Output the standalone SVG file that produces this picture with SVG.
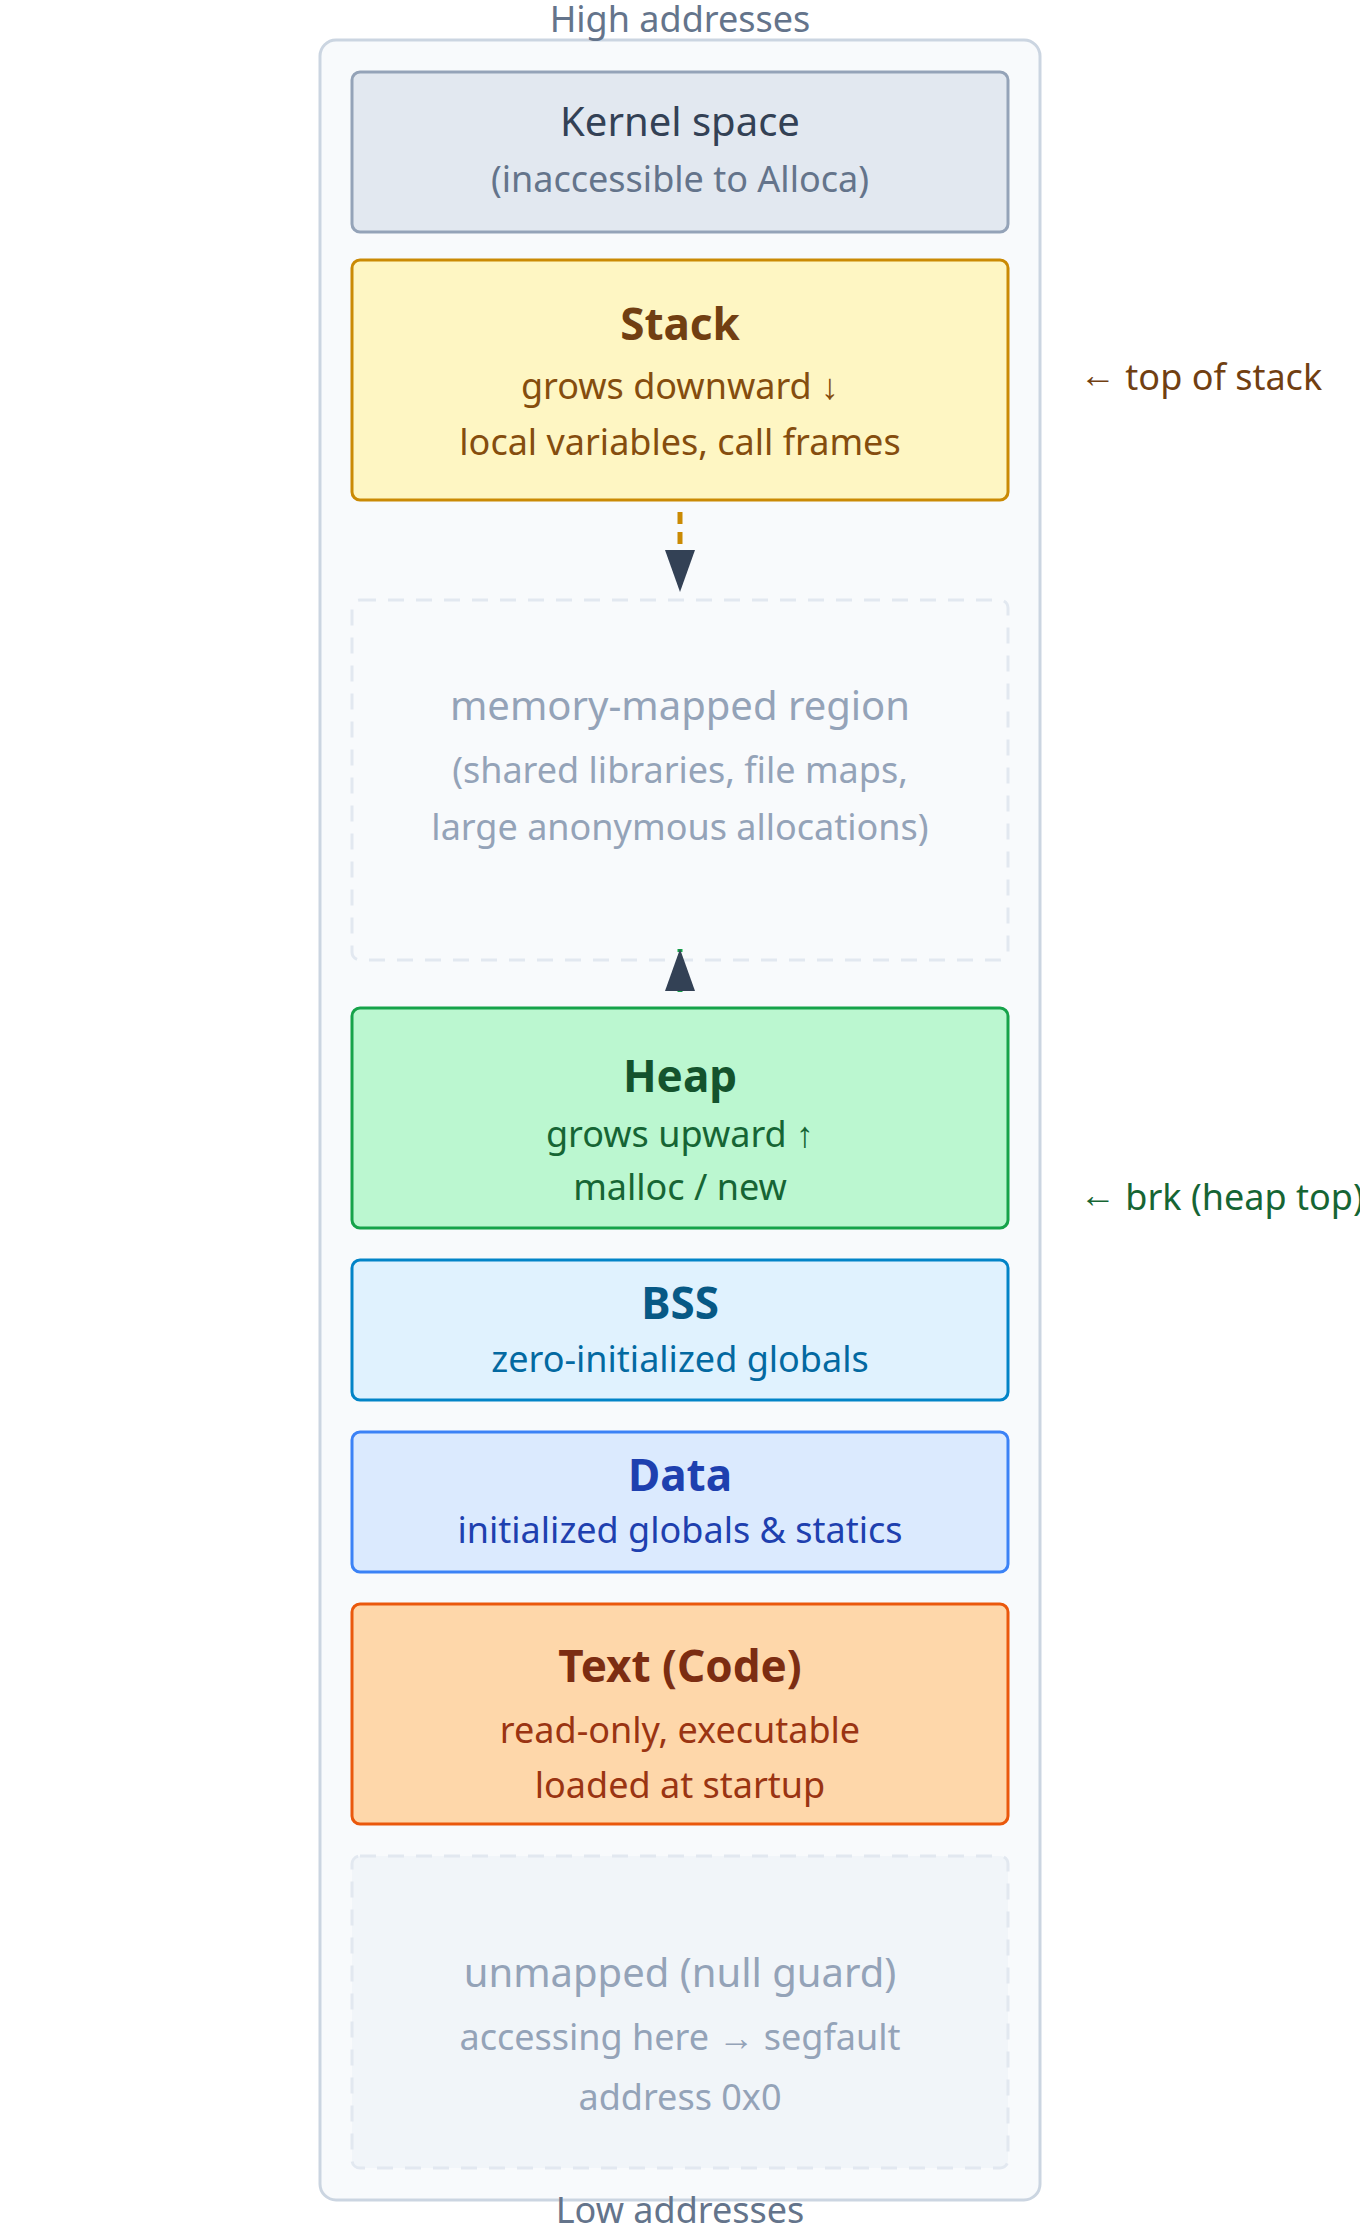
<svg xmlns="http://www.w3.org/2000/svg" width="1360" height="2240" viewBox="0 0 1360 2240">
<style>
text{font-family:"Noto Sans","Open Sans","DejaVu Sans",sans-serif;text-anchor:middle}
.hdr{font-size:36px;fill:#64748b}
.box{stroke-width:3}
.t{font-size:44px;font-weight:700}
.s{font-size:36px}
.big{font-size:40px}
.side{font-size:36px;text-anchor:start}
.ghost{fill:#94a3b8}
.ar{font-family:"Liberation Sans",Arial,sans-serif}
</style>
<defs>
<marker id="ah" markerUnits="userSpaceOnUse" markerWidth="42" markerHeight="30" refX="42" refY="15" orient="auto">
<path d="M0,0 L42,15 L0,30 Z" fill="#334155"/>
</marker>
</defs>
<rect width="1360" height="2240" fill="#ffffff"/>
<g id="container">
<rect x="320" y="40" width="720" height="2160" rx="16" fill="#f8fafc" stroke="#cbd5e1" stroke-width="3"/>
<text class="hdr" x="680" y="32">High addresses</text>
<text class="hdr" x="680" y="2223">Low addresses</text>
</g>
<g id="kernel">
<rect class="box" x="352" y="72" width="656" height="160" rx="8" fill="#e2e8f0" stroke="#94a3b8"/>
<text class="big" x="680" y="136" fill="#334155">Kernel space</text>
<text class="s" x="680" y="192" fill="#64748b">(inaccessible to Alloca)</text>
</g>
<g id="stack">
<rect class="box" x="352" y="260" width="656" height="240" rx="8" fill="#fef6c3" stroke="#ca8a04"/>
<text class="t" x="680" y="340" fill="#713f12">Stack</text>
<text class="s" x="680" y="399" fill="#854d0e">grows downward <tspan class="ar">↓</tspan></text>
<text class="s" x="680" y="455" fill="#854d0e">local variables, call frames</text>
</g>
<g id="top-of-stack">
<text class="side" x="1080" y="390" fill="#713f12"><tspan class="ar" dy="-3">←</tspan><tspan dy="3"> top of stack</tspan></text>
</g>
<g id="mmap">
<rect x="352" y="600" width="656" height="360" rx="8" fill="#f8fafc" stroke="#e2e8f0" stroke-width="3" stroke-dasharray="16 12"/>
<text class="big ghost" x="680" y="720">memory-mapped region</text>
<text class="s ghost" x="680" y="783">(shared libraries, file maps,</text>
<text class="s ghost" x="680" y="840">large anonymous allocations)</text>
</g>
<g id="heap">
<rect class="box" x="352" y="1008" width="656" height="220" rx="8" fill="#bbf7d0" stroke="#16a34a"/>
<text class="t" x="680" y="1092" fill="#14532d">Heap</text>
<text class="s" x="680" y="1147" fill="#166534">grows upward <tspan class="ar">↑</tspan></text>
<text class="s" x="680" y="1200" fill="#166534">malloc / new</text>
</g>
<g id="brk">
<text class="side" x="1080" y="1210" fill="#166534"><tspan class="ar" dy="-3">←</tspan><tspan dy="3"> brk (heap top)</tspan></text>
</g>
<g id="bss">
<rect class="box" x="352" y="1260" width="656" height="140" rx="8" fill="#e0f2fe" stroke="#0284c7"/>
<text class="t" x="680" y="1319" fill="#075985">BSS</text>
<text class="s" x="680" y="1372" fill="#0369a1">zero-initialized globals</text>
</g>
<g id="data">
<rect class="box" x="352" y="1432" width="656" height="140" rx="8" fill="#dbeafe" stroke="#3b82f6"/>
<text class="t" x="680" y="1491" fill="#1e40af">Data</text>
<text class="s" x="680" y="1543" fill="#1e40af">initialized globals &amp; statics</text>
</g>
<g id="text-code">
<rect class="box" x="352" y="1604" width="656" height="220" rx="8" fill="#fed7aa" stroke="#ea580c"/>
<text class="t" x="680" y="1682" fill="#7c2d12">Text (Code)</text>
<text class="s" x="680" y="1743" fill="#9a3412">read-only, executable</text>
<text class="s" x="680" y="1798" fill="#9a3412">loaded at startup</text>
</g>
<g id="unmapped">
<rect x="352" y="1856" width="656" height="312" rx="8" fill="#f1f5f9" stroke="#e2e8f0" stroke-width="3" stroke-dasharray="16 12"/>
<text class="big ghost" x="680" y="1987">unmapped (null guard)</text>
<text class="s ghost" x="680" y="2050">accessing here <tspan class="ar">→</tspan> segfault</text>
<text class="s ghost" x="680" y="2110">address 0x0</text>
</g>
<g id="connectors">
<line x1="680" y1="512" x2="680" y2="592" stroke="#ca8a04" stroke-width="5" stroke-dasharray="12 8" marker-end="url(#ah)"/>
<line x1="680" y1="992" x2="680" y2="949" stroke="#16a34a" stroke-width="5" stroke-dasharray="12 8" marker-end="url(#ah)"/>
</g>
</svg>
